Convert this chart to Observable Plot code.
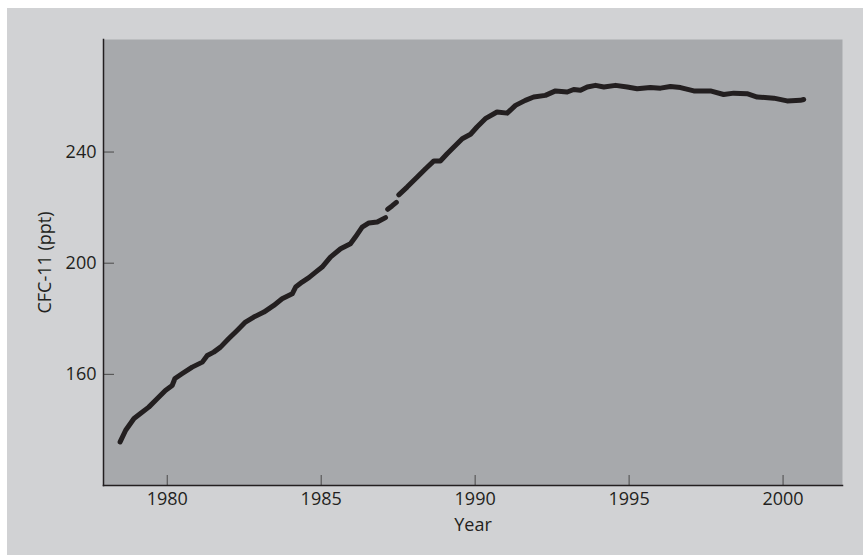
<!DOCTYPE html>
<html>
<head>
<meta charset="utf-8">
<script src="https://cdn.jsdelivr.net/npm/d3@7"></script>
<script src="https://cdn.jsdelivr.net/npm/@observablehq/plot@0.6"></script>
<style>
  html, body { margin: 0; padding: 0; background: #ffffff; }
  #chart { position: absolute; left: 7px; top: 8px; width: 856px; height: 547px; background: #d1d2d4; }
  #chart svg { display: block; }
</style>
</head>
<body>
<div id="chart"></div>
<script>
// CFC-11 mixing ratio (ppt); null marks a data gap
const years = [1978.47, 1978.65, 1978.92, 1979.13, 1979.40, 1979.68, 1979.94, 1980.16, 1980.25, 1980.49,
  1980.81, 1981.14, 1981.30, 1981.51, 1981.73, 1982.00, 1982.27, 1982.54, 1982.81, 1983.14,
  1983.46, 1983.73, 1984.06, 1984.17, 1984.38, 1984.60, 1984.80, 1985.03, 1985.30, 1985.63,
  1985.95, 1986.11, 1986.33, 1986.55, 1986.82, 1987.09,
  1987.12,
  1987.16, 1987.30, 1987.44,
  1987.48,
  1987.52, 1987.79, 1988.12, 1988.39, 1988.66, 1988.87, 1989.09, 1989.31, 1989.58, 1989.85,
  1990.06, 1990.33, 1990.71, 1991.04, 1991.31, 1991.63, 1991.90, 1992.28, 1992.61, 1992.99,
  1993.20, 1993.42, 1993.64, 1993.91, 1994.18, 1994.56, 1994.94, 1995.26, 1995.69, 1996.02,
  1996.34, 1996.67, 1997.10, 1997.64, 1998.07, 1998.40, 1998.83, 1999.16, 1999.70, 2000.13,
  2000.56, 2000.67];
const ppt = [135.7, 139.9, 144.1, 145.9, 148.2, 151.3, 154.2, 156.0, 158.5, 160.3,
  162.6, 164.4, 166.8, 168.0, 169.8, 172.9, 175.8, 178.8, 180.6, 182.4,
  184.8, 187.2, 189.0, 191.4, 193.2, 194.8, 196.6, 198.6, 202.2, 205.2,
  207.0, 209.4, 213.0, 214.5, 214.8, 216.4,
  null,
  219.4, 220.6, 221.9,
  null,
  224.6, 227.4, 231.0, 234.0, 236.8, 236.8, 239.4, 241.8, 244.8, 246.4,
  249.0, 252.0, 254.4, 254.0, 256.8, 258.6, 259.8, 260.4, 262.0, 261.6,
  262.5, 262.2, 263.4, 264.0, 263.4, 264.0, 263.4, 262.8, 263.2, 263.0,
  263.6, 263.2, 262.0, 262.0, 260.7, 261.2, 261.0, 259.8, 259.4, 258.4,
  258.6, 258.9];
const xTicks = [1980, 1985, 1990, 1995, 2000];
const yTicks = [160, 200, 240];

const data = years.map((year, i) => ({year, ppt: ppt[i]}));

const W = 856, H = 547;
const mL = 96, mR = 21, mT = 31, mB = 70;
const ink = "#231f20";
const font = "'Open Sans', 'Noto Sans', sans-serif";

const chart = Plot.plot({
  width: W,
  height: H,
  marginLeft: mL,
  marginRight: mR,
  marginTop: mT,
  marginBottom: mB,
  style: {background: "transparent", fontFamily: font, fontSize: "18px", color: ink},
  x: {domain: [1977.93, 2001.93], label: "Year"},
  y: {domain: [120, 280.5], label: "CFC-11 (ppt)"},
  marks: [
    Plot.frame({fill: "#a7a9ac", stroke: null}),
    Plot.tickX(xTicks, {x: d => d, stroke: "#4a4a4a", strokeWidth: 1, insetTop: (H - mT - mB) - 10}),
    Plot.tickY(yTicks, {y: d => d, stroke: "#4a4a4a", strokeWidth: 1, insetRight: (W - mL - mR) - 11}),
    Plot.axisX(xTicks, {tickSize: 0, tickPadding: 7, fontSize: 18, fill: ink,
      label: "Year", labelAnchor: "center", labelOffset: 45, labelArrow: "none", tickFormat: d => String(d)}),
    Plot.axisY(yTicks, {tickSize: 0, tickPadding: 7, fontSize: 18, fill: ink,
      label: "CFC-11 (ppt)", labelAnchor: "center", labelOffset: 65, labelArrow: "none"}),
    Plot.frame({anchor: "left", stroke: ink, strokeWidth: 1.5}),
    Plot.frame({anchor: "bottom", stroke: ink, strokeWidth: 1.5}),
    Plot.line(data, {x: "year", y: "ppt", stroke: ink, strokeWidth: 5,
      strokeLinecap: "round", strokeLinejoin: "round"})
  ]
});
document.getElementById("chart").appendChild(chart);
</script>
</body>
</html>
